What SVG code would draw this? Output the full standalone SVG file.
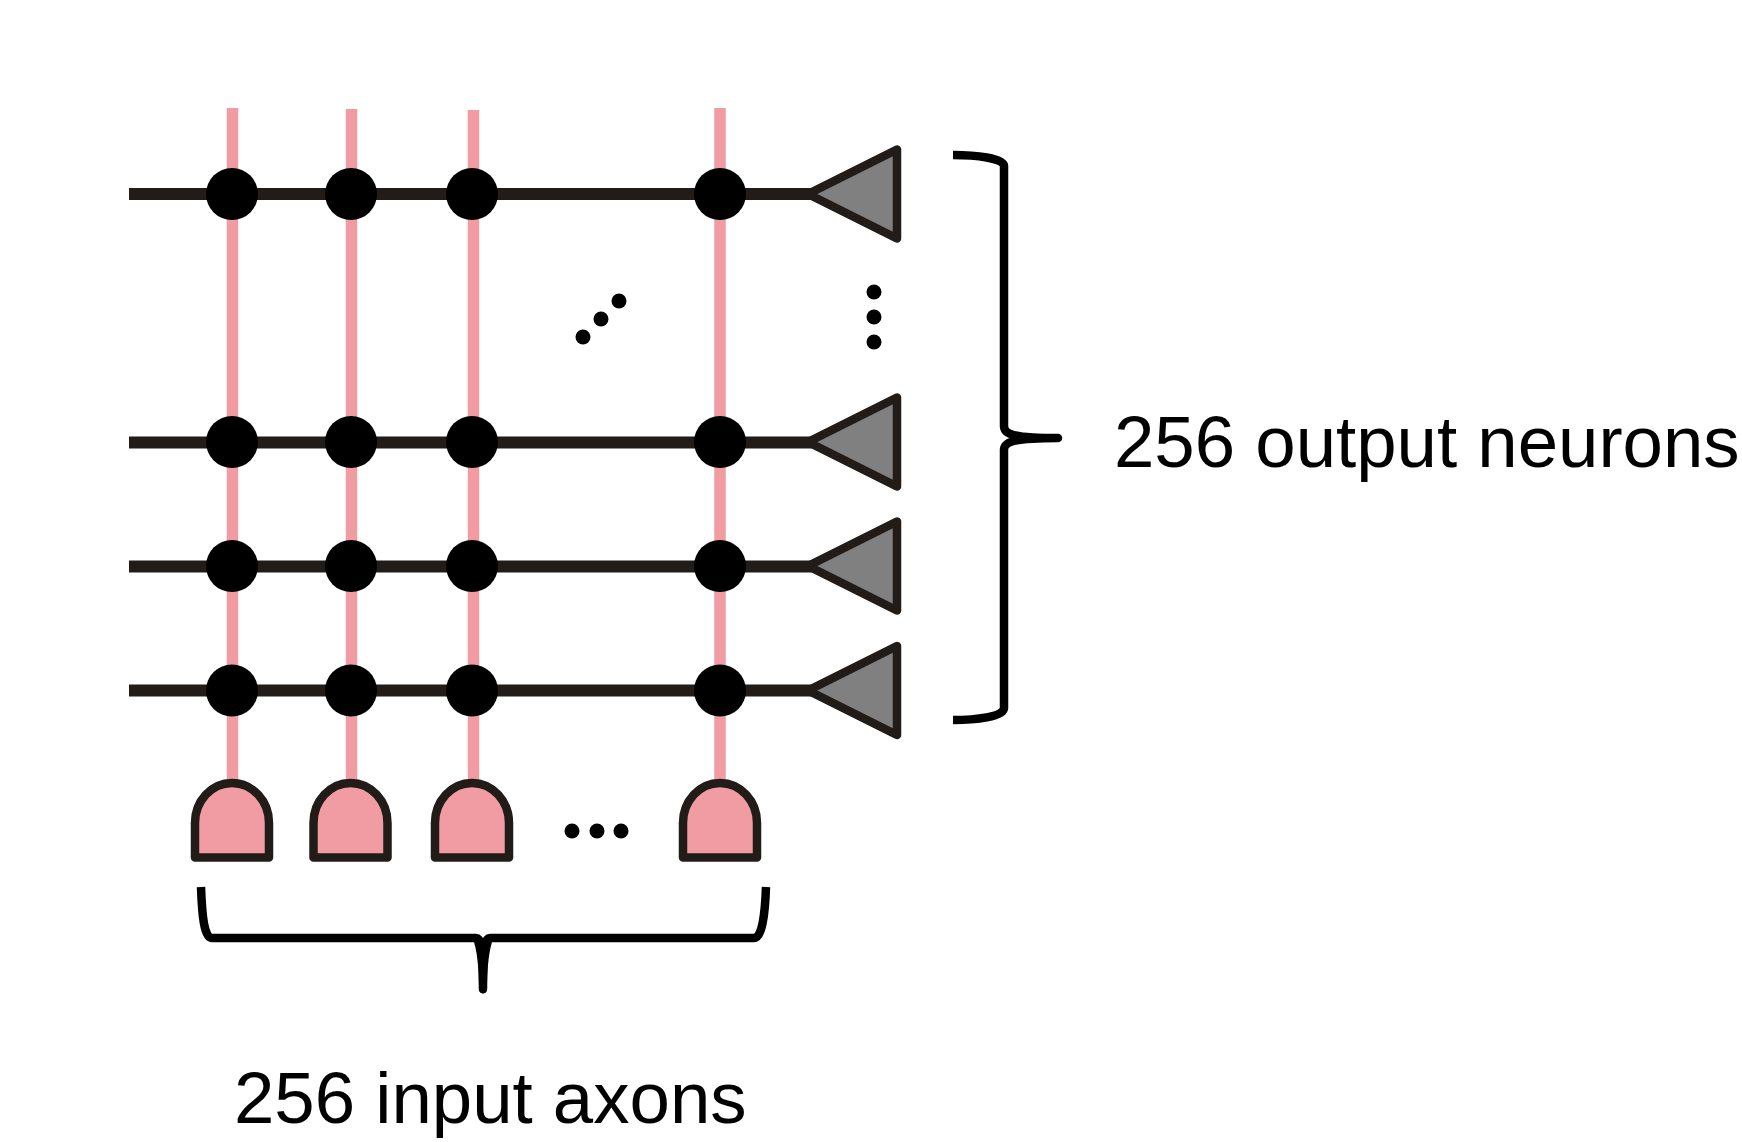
<svg xmlns="http://www.w3.org/2000/svg" width="1742" height="1142" viewBox="0 0 1742 1142">
<style>
.axon{stroke:#f19ca3;stroke-width:11.500;fill:none}
.wire{stroke:#211c18;stroke-width:12;fill:none}
.syn{fill:#000}
.neuron{fill:#808080;stroke:#211c18;stroke-width:8.500;stroke-linejoin:round}
.gate{fill:#f19ca3;stroke:#211c18;stroke-width:8.500;stroke-linejoin:round}
.brace{fill:none;stroke:#000;stroke-width:8.500;stroke-linejoin:round}
.tip{fill:#000}
.dot{fill:#000}
text{font-family:"Liberation Sans",Arial,sans-serif;font-size:72.600px;fill:#000}
</style>
<rect width="1742" height="1142" fill="#fff"/>
<g id="connectors">
<path class="axon" d="M232.500 108V785"/><path class="axon" d="M351.500 109V785"/><path class="axon" d="M473.500 110V785"/><path class="axon" d="M720 108V785"/>
<path class="wire" d="M129 194H812"/><path class="wire" d="M129 442.500H812"/><path class="wire" d="M129 566.500H812"/><path class="wire" d="M129 690.500H812"/>
</g>
<g id="synapses">
<circle class="syn" cx="232" cy="194" r="26"/><circle class="syn" cx="351" cy="194" r="26"/><circle class="syn" cx="472" cy="194" r="26"/><circle class="syn" cx="720" cy="194" r="26"/>
<circle class="syn" cx="232" cy="442" r="26"/><circle class="syn" cx="351" cy="442" r="26"/><circle class="syn" cx="472" cy="442" r="26"/><circle class="syn" cx="720" cy="442" r="26"/>
<circle class="syn" cx="232" cy="566" r="26"/><circle class="syn" cx="351" cy="566" r="26"/><circle class="syn" cx="472" cy="566" r="26"/><circle class="syn" cx="720" cy="566" r="26"/>
<circle class="syn" cx="232" cy="690.500" r="26"/><circle class="syn" cx="351" cy="690.500" r="26"/><circle class="syn" cx="472" cy="690.500" r="26"/><circle class="syn" cx="720" cy="690.500" r="26"/>
</g>
<g id="neuron-1"><path class="neuron" d="M808 194L897 149.500V238.500Z"/></g>
<g id="neuron-2"><path class="neuron" d="M808 442L897 397.500V486.500Z"/></g>
<g id="neuron-3"><path class="neuron" d="M808 566L897 521.500V610.500Z"/></g>
<g id="neuron-4"><path class="neuron" d="M808 690.500L897 646V735Z"/></g>
<g id="axon-1"><path class="gate" d="M195 857.500V823A37 40 0 0 1 269 823V857.500Z"/></g>
<g id="axon-2"><path class="gate" d="M313.500 857.500V823A37 40 0 0 1 387.500 823V857.500Z"/></g>
<g id="axon-3"><path class="gate" d="M435 857.500V823A37 40 0 0 1 509 823V857.500Z"/></g>
<g id="axon-4"><path class="gate" d="M683 857.500V823A37 40 0 0 1 757 823V857.500Z"/></g>
<g id="ellipses">
<circle class="dot" cx="583" cy="337" r="7.500"/><circle class="dot" cx="601" cy="319" r="7.500"/><circle class="dot" cx="619" cy="301" r="7.500"/>
<circle class="dot" cx="874" cy="292" r="7.500"/><circle class="dot" cx="874" cy="317" r="7.500"/><circle class="dot" cx="874" cy="342" r="7.500"/>
<circle class="dot" cx="572" cy="831" r="7.500"/><circle class="dot" cx="597" cy="831" r="7.500"/><circle class="dot" cx="621" cy="831" r="7.500"/>
</g>
<g id="output-brace">
<path class="brace" d="M953 155C975 155 1004 158 1004 166V426C1004 434 1012 438 1058 438C1012 438 1004 442 1004 450V708C1004 717 975 720 953 720"/>
<path class="tip" d="M1012 432C1030 435 1050 434 1058 434C1063 435 1063 441 1058 442C1050 442 1030 441 1012 444Z"/>
</g>
<g id="input-brace">
<path class="brace" d="M201 887C202 915 204 938 212 938H476C481 938 483 945 483 989C483 945 485 938 490 938H754C762 938 765 915 766 887"/>
<path class="tip" d="M474 942C478 955 479 975 479 989C479 995 487 995 487 989C487 975 488 955 492 942Z"/>
</g>
<text id="label-output" x="1114" y="467">256 output neurons</text>
<text id="label-input" x="234" y="1123">256 input axons</text>
</svg>
